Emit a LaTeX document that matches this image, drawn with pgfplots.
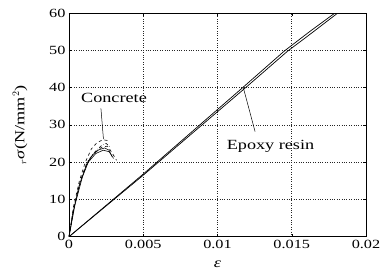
\documentclass[border=0pt]{standalone}
\usepackage{fontspec}
\setmainfont{Liberation Serif}[FakeStretch=1.3]
\usepackage{pgfplots}
\pgfplotsset{compat=1.18}
\begin{document}
\begin{tikzpicture}
\useasboundingbox (-69bp,-40.3bp) rectangle (311bp,236.7bp);
\begin{axis}[
  scale only axis,
  width=297bp, height=223.7bp,
  xmin=0, xmax=0.02, ymin=0, ymax=60,
  xtick={0,0.005,0.01,0.015,0.02},
  xticklabels={0,0.005,0.01,0.015,0.02},
  scaled x ticks=false,
  ytick={0,10,20,30,40,50,60},
  /pgf/number format/assume math mode=true,
  tick label style={font=\fontsize{12.5bp}{14bp}\selectfont},
  grid=major,
  major grid style={dotted, black!85, line width=0.6pt},
  axis line style={black, line width=0.7pt},
  major tick length=3bp,
  tick style={black, line width=0.5pt},
  xlabel={\itshape ε},
  ylabel={${}_{r}$\textit{σ}(N/mm$^{2}$)},
  label style={font=\fontsize{14bp}{16bp}\selectfont},
  xlabel style={at={(axis description cs:0.5,0)},anchor=center,yshift=-27.5bp},
  ylabel style={at={(axis description cs:0,0.5)},anchor=center,rotate=0,yshift=49bp},
  clip=true,
]
% Epoxy resin
\addplot[black, line width=0.7pt] coordinates {(0,0) (0.005,16.8) (0.0117,40) (0.0145,49.8) (0.0162,55) (0.01791,60)};
\addplot[black, line width=0.7pt] coordinates {(0,0) (0.005,16.5) (0.0119,40) (0.0147,49.7) (0.0164,54.8) (0.0181,60)};
% Concrete
\addplot[black, dashed, line width=0.6pt] coordinates {(0,0) (0.0003,8) (0.0007,15) (0.0011,20) (0.0015,23.5) (0.0019,25.3) (0.0023,26) (0.0026,25.8)};
\addplot[black, line width=0.6pt] coordinates {(0,0) (0.0003,7) (0.0007,14) (0.0012,19.5) (0.0016,22) (0.0020,23.3) (0.0024,23.8) (0.0027,23.2) (0.0029,21.5)};
\addplot[black, dashed, line width=0.6pt] coordinates {(0,0) (0.0004,9) (0.0008,15.5) (0.0012,19.8) (0.0017,22.5) (0.0022,24) (0.0026,24.3) (0.0029,22.5) (0.0032,20.5)};
\addplot[black, dash dot, line width=0.6pt] coordinates {(0,0) (0.0003,7.5) (0.0008,15) (0.0013,20.5) (0.0018,23) (0.0022,24.5) (0.0025,25) (0.0028,24)};
\addplot[black, line width=0.6pt] coordinates {(0,0) (0.0004,8.5) (0.0009,16) (0.0013,20) (0.0018,22.3) (0.0023,23.2) (0.0027,22.8) (0.0030,21)};
% annotations
\draw[black, line width=0.5pt] (axis cs:0.00215,34.4) -- (axis cs:0.00232,26.2);
\node[font=\fontsize{14bp}{16bp}\selectfont, anchor=center] at (axis cs:0.00303,37.3) {Concrete};
\draw[black, line width=0.5pt] (axis cs:0.01173,40.1) -- (axis cs:0.01253,28.2);
\node[font=\fontsize{14bp}{16bp}\selectfont, anchor=base] at (axis cs:0.01357,23.5) {Epoxy resin};
\end{axis}
\end{tikzpicture}
\end{document}
